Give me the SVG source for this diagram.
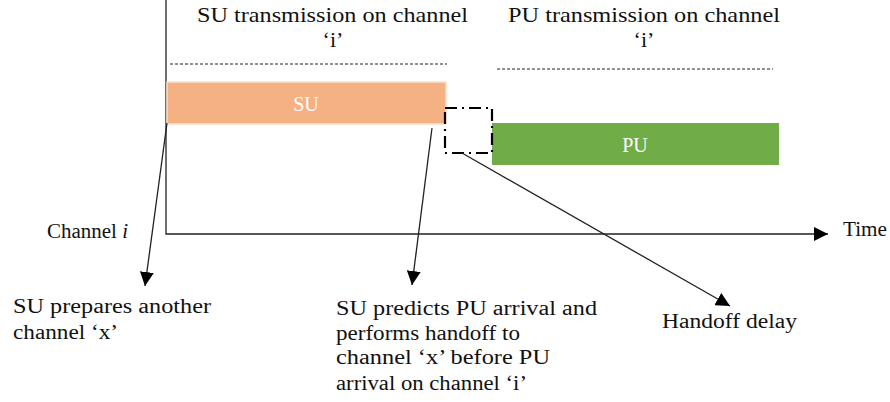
<svg xmlns="http://www.w3.org/2000/svg" width="890" height="402" viewBox="0 0 890 402">
  <defs>
    <marker id="arrow" viewBox="0 0 10 10" refX="10" refY="5" markerWidth="14" markerHeight="14" markerUnits="userSpaceOnUse" orient="auto">
      <path d="M0,0 L10,5 L0,10 z" fill="#000"/>
    </marker>
    <style>
      text { font-family: "Liberation Serif", "Times New Roman", serif; fill: #111; }
      .title { font-size: 22px; }
      .label { font-size: 20px; }
      .bar-label { font-size: 20px; fill: #fff; text-anchor: middle; }
      .line { stroke: #222; stroke-width: 1.3; fill: none; }
      .dash { stroke: #222; stroke-width: 1; stroke-dasharray: 3 2; fill: none; }
    </style>
  </defs>

  <!-- time axis -->
  <g id="axis">
    <path class="line" d="M166,0 L166,234 L828,234" marker-end="url(#arrow)"/>
    <text class="label" x="47" y="238" textLength="81" lengthAdjust="spacingAndGlyphs">Channel <tspan font-style="italic">i</tspan></text>
    <text class="label" x="843" y="236" textLength="44" lengthAdjust="spacingAndGlyphs">Time</text>
  </g>

  <!-- SU transmission -->
  <g id="su-node">
    <text class="title" x="197" y="22" textLength="271" lengthAdjust="spacingAndGlyphs">SU transmission on channel</text>
    <text class="title" x="333" y="47" text-anchor="middle">‘i’</text>
    <line class="dash" x1="170" y1="64" x2="447" y2="64"/>
    <rect x="167" y="82" width="279" height="42" fill="#F4B183" stroke="#FBE0CB" stroke-width="1.5"/>
    <text class="bar-label" x="306" y="111">SU</text>
  </g>

  <!-- PU transmission -->
  <g id="pu-node">
    <text class="title" x="508" y="22" textLength="272" lengthAdjust="spacingAndGlyphs">PU transmission on channel</text>
    <text class="title" x="644" y="47" text-anchor="middle">‘i’</text>
    <line class="dash" x1="497" y1="69" x2="773" y2="69"/>
    <rect x="492" y="123" width="287" height="42" fill="#70AD47"/>
    <text class="bar-label" x="635" y="152">PU</text>
  </g>

  <!-- handoff gap -->
  <g id="handoff-box">
    <rect x="445" y="108" width="47" height="45" fill="none" stroke="#000" stroke-width="2.2" stroke-dasharray="12 5 2 5"/>
  </g>

  <!-- callout arrows -->
  <g id="connectors">
    <line class="line" x1="167" y1="123" x2="145" y2="286" marker-end="url(#arrow)"/>
    <line class="line" x1="432" y1="128" x2="412" y2="285" marker-end="url(#arrow)"/>
    <line class="line" x1="462" y1="153" x2="730" y2="306" marker-end="url(#arrow)"/>
  </g>

  <!-- annotations -->
  <g id="note-prepare">
    <text class="label" x="13" y="313" textLength="198" lengthAdjust="spacingAndGlyphs">SU prepares another</text>
    <text class="label" x="13" y="339" textLength="105" lengthAdjust="spacingAndGlyphs">channel ‘x’</text>
  </g>
  <g id="note-predict">
    <text class="label" x="336" y="315" textLength="261" lengthAdjust="spacingAndGlyphs">SU predicts PU arrival and</text>
    <text class="label" x="336" y="340" textLength="184" lengthAdjust="spacingAndGlyphs">performs handoff to</text>
    <text class="label" x="336" y="364" textLength="214" lengthAdjust="spacingAndGlyphs">channel ‘x’ before PU</text>
    <text class="label" x="336" y="390" textLength="191" lengthAdjust="spacingAndGlyphs">arrival on channel ‘i’</text>
  </g>
  <g id="note-delay">
    <text class="label" x="662" y="328" textLength="135" lengthAdjust="spacingAndGlyphs">Handoff delay</text>
  </g>
</svg>
